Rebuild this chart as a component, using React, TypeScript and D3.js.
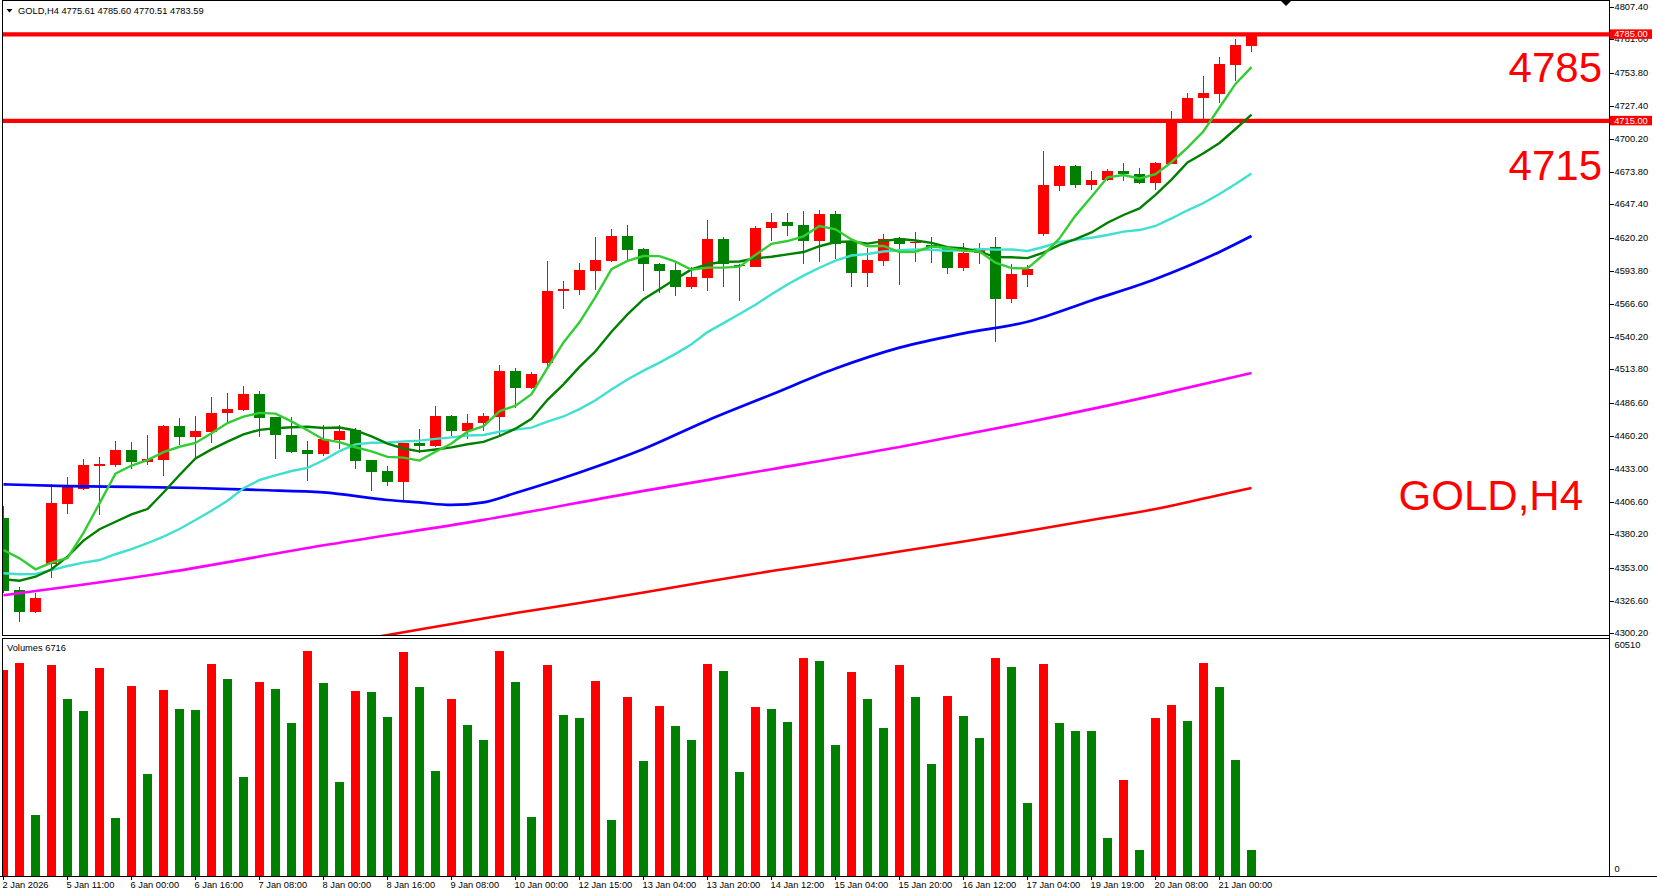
import React from 'react';
import * as d3 from 'd3';

const W = 1657;
const H = 896;

const opens = [4393.8, 4335.3, 4317.7, 4356.1, 4405.1, 4416.8, 4435.4, 4436.4, 4448.6, 4439.1, 4440.5, 4468.0, 4459.3, 4463.4, 4478.4, 4481.0, 4493.9, 4475.5, 4461.0, 4448.6, 4445.6, 4456.7, 4464.8, 4440.5, 4431.6, 4422.9, 4454.2, 4451.8, 4476.1, 4464.0, 4470.2, 4475.5, 4512.5, 4499.0, 4518.8, 4577.5, 4578.1, 4593.7, 4601.8, 4621.8, 4611.3, 4599.0, 4594.0, 4580.8, 4588.1, 4619.4, 4598.5, 4597.0, 4628.2, 4633.2, 4631.0, 4617.8, 4639.9, 4617.2, 4592.1, 4601.8, 4620.0, 4616.0, 4614.6, 4611.9, 4596.2, 4607.8, 4612.6, 4571.1, 4590.2, 4623.4, 4662.5, 4678.7, 4663.3, 4666.9, 4674.4, 4672.0, 4665.0, 4680.1, 4715.7, 4733.2, 4736.8, 4760.5, 4775.61];
const highs = [4403.2, 4337.9, 4332.6, 4421.1, 4427.0, 4441.1, 4442.7, 4456.1, 4455.3, 4460.7, 4468.8, 4474.7, 4476.1, 4491.7, 4495.0, 4500.4, 4496.6, 4475.5, 4475.5, 4455.9, 4468.8, 4468.8, 4466.2, 4440.5, 4435.6, 4454.5, 4465.6, 4484.2, 4477.0, 4477.7, 4478.3, 4517.4, 4515.2, 4511.5, 4601.6, 4585.4, 4600.2, 4621.2, 4627.5, 4630.7, 4612.3, 4600.2, 4599.7, 4597.0, 4634.8, 4621.2, 4599.0, 4629.9, 4640.7, 4640.2, 4642.1, 4642.9, 4642.1, 4617.2, 4611.9, 4623.4, 4621.2, 4625.3, 4621.2, 4613.2, 4616.4, 4616.4, 4621.2, 4599.2, 4598.3, 4690.6, 4679.3, 4679.3, 4674.4, 4676.1, 4680.7, 4676.6, 4681.5, 4723.2, 4737.8, 4751.3, 4767.0, 4781.3, 4785.60];
const lows = [4333.0, 4309.6, 4316.9, 4345.2, 4396.8, 4416.0, 4396.0, 4435.1, 4433.0, 4436.4, 4427.5, 4452.6, 4442.7, 4454.5, 4470.2, 4480.0, 4459.3, 4441.5, 4446.4, 4423.7, 4444.0, 4449.1, 4433.2, 4415.6, 4419.4, 4406.7, 4445.9, 4451.0, 4459.9, 4457.2, 4464.2, 4460.7, 4482.3, 4497.7, 4516.0, 4562.7, 4574.1, 4578.1, 4601.0, 4602.4, 4577.5, 4575.9, 4573.2, 4578.9, 4577.5, 4580.8, 4569.4, 4596.5, 4617.8, 4621.8, 4599.2, 4601.0, 4603.2, 4580.8, 4580.8, 4597.5, 4582.1, 4601.0, 4600.2, 4591.1, 4593.7, 4598.9, 4536.3, 4567.8, 4580.8, 4622.1, 4658.5, 4660.9, 4659.1, 4666.0, 4666.6, 4663.9, 4659.1, 4680.0, 4714.0, 4716.0, 4729.2, 4747.3, 4770.51];
const closes = [4334.7, 4317.7, 4328.8, 4405.9, 4418.9, 4436.4, 4437.0, 4448.6, 4439.1, 4441.1, 4468.0, 4459.3, 4464.0, 4478.8, 4481.8, 4493.9, 4474.7, 4461.0, 4447.2, 4445.6, 4457.2, 4464.0, 4439.9, 4431.0, 4422.9, 4454.0, 4452.1, 4476.1, 4464.0, 4470.7, 4476.1, 4512.5, 4499.0, 4510.1, 4577.3, 4578.9, 4594.3, 4602.4, 4621.8, 4610.5, 4598.9, 4593.7, 4580.8, 4588.4, 4619.1, 4598.9, 4597.8, 4628.5, 4633.2, 4629.9, 4618.0, 4639.9, 4615.1, 4592.1, 4602.4, 4619.1, 4615.3, 4616.6, 4613.2, 4596.2, 4608.3, 4612.3, 4571.1, 4591.1, 4595.3, 4663.1, 4678.7, 4663.3, 4667.2, 4674.4, 4671.8, 4665.0, 4680.7, 4715.7, 4733.8, 4737.8, 4761.0, 4776.4, 4783.59];
const volumes = [52675, 54482, 15493, 53966, 45445, 42346, 53191, 14976, 48543, 26079, 47511, 42863, 42605, 54224, 50351, 25305, 49576, 47769, 39248, 57581, 49318, 24014, 47252, 46994, 40797, 57323, 48285, 26854, 45445, 38732, 34858, 57581, 49576, 15234, 53966, 41314, 40539, 49835, 14460, 45961, 29436, 43637, 38473, 34858, 54224, 52417, 26596, 43379, 42863, 39506, 55773, 55000, 33567, 52158, 45445, 37957, 53966, 45961, 28661, 46220, 41055, 35375, 55773, 53449, 18591, 54224, 39248, 37182, 37100, 9812, 24530, 6713, 40539, 43896, 39764, 54482, 48285, 29694, 6716];

const maFast = [4367.6, 4360.9, 4352.0, 4357.4, 4361.2, 4381.5, 4405.4, 4429.4, 4436.0, 4440.4, 4446.8, 4451.2, 4454.3, 4462.2, 4470.4, 4475.6, 4478.6, 4478.0, 4471.7, 4464.5, 4457.1, 4455.0, 4450.8, 4447.5, 4443.0, 4442.4, 4440.0, 4447.2, 4453.8, 4463.4, 4467.8, 4479.9, 4484.5, 4493.7, 4515.0, 4535.6, 4551.9, 4572.6, 4594.9, 4601.6, 4605.6, 4605.5, 4601.1, 4594.5, 4596.2, 4596.2, 4597.0, 4606.5, 4615.5, 4617.7, 4621.5, 4629.9, 4627.2, 4619.0, 4613.5, 4613.7, 4608.8, 4609.1, 4613.3, 4612.1, 4609.9, 4609.3, 4600.2, 4595.8, 4595.6, 4606.6, 4619.9, 4638.3, 4653.5, 4669.3, 4671.1, 4668.3, 4671.8, 4681.5, 4693.4, 4706.6, 4725.8, 4744.9, 4758.5];
const maMid = [4343.9, 4342.8, 4346.0, 4352.0, 4362.2, 4375.2, 4384.4, 4390.5, 4396.5, 4400.8, 4414.2, 4428.3, 4441.8, 4449.1, 4455.4, 4461.2, 4464.9, 4466.2, 4467.0, 4467.4, 4466.4, 4466.8, 4464.4, 4459.6, 4453.7, 4449.8, 4447.5, 4449.0, 4450.7, 4453.2, 4455.1, 4459.9, 4465.8, 4473.8, 4489.2, 4501.7, 4515.9, 4528.5, 4544.3, 4558.3, 4570.6, 4578.7, 4586.9, 4594.7, 4598.9, 4600.9, 4601.2, 4603.8, 4605.0, 4606.9, 4608.8, 4613.5, 4616.9, 4617.3, 4615.6, 4617.6, 4619.4, 4618.2, 4616.2, 4612.8, 4611.8, 4609.1, 4604.7, 4604.6, 4603.9, 4608.3, 4614.6, 4619.3, 4624.7, 4632.5, 4638.8, 4644.1, 4655.1, 4667.5, 4681.4, 4688.8, 4697.1, 4708.4, 4720.0];
const maSlow = [4348.8, 4348.0, 4348.2, 4351.4, 4354.7, 4357.4, 4359.5, 4364.2, 4368.4, 4373.1, 4378.4, 4384.6, 4391.9, 4399.4, 4407.5, 4417.6, 4424.3, 4428.1, 4431.6, 4434.1, 4440.3, 4447.6, 4453.1, 4454.4, 4454.6, 4455.5, 4456.2, 4457.6, 4458.8, 4460.3, 4460.7, 4463.4, 4465.1, 4466.7, 4471.5, 4475.7, 4481.7, 4488.8, 4497.5, 4505.7, 4512.8, 4519.3, 4526.4, 4534.2, 4544.0, 4551.3, 4558.6, 4566.2, 4574.6, 4582.6, 4589.7, 4596.1, 4601.9, 4606.0, 4607.2, 4609.2, 4610.3, 4611.0, 4610.6, 4609.9, 4610.3, 4611.3, 4610.8, 4610.9, 4609.7, 4612.9, 4617.0, 4618.7, 4620.4, 4622.6, 4625.3, 4626.6, 4629.9, 4636.0, 4642.6, 4648.5, 4655.8, 4663.8, 4672.3];

const blueIdx = [0, 4, 8, 12, 16, 20, 24, 26, 28, 30, 32, 36, 40, 44, 48, 52, 56, 60, 64, 68, 72, 76, 78];
const blueVal = [4420.8, 4419.3, 4418.7, 4417.8, 4416.2, 4414.3, 4408.1, 4406.1, 4404.1, 4406.2, 4413.8, 4430.4, 4449.4, 4472.5, 4493.5, 4514.5, 4531.4, 4543.0, 4552.4, 4569.6, 4587.0, 4608.9, 4621.8];
const magIdx = [0, 10, 20, 30, 40, 48, 56, 64, 72, 78];
const magVal = [4331.0, 4349.0, 4371.4, 4392.0, 4415.5, 4433.0, 4451.0, 4471.0, 4493.0, 4510.9];
const redIdx = [20, 24, 28, 32, 36, 40, 44, 48, 52, 56, 60, 64, 68, 72, 76, 78];
const redVal = [4289.9, 4298.8, 4307.7, 4316.6, 4324.7, 4333.2, 4342.1, 4350.6, 4358.3, 4366.4, 4374.5, 4383.0, 4391.9, 4400.8, 4412.2, 4417.8];

const timeLabels = ['2 Jan 2026', '5 Jan 11:00', '6 Jan 00:00', '6 Jan 16:00', '7 Jan 08:00', '8 Jan 00:00', '8 Jan 16:00', '9 Jan 08:00', '10 Jan 00:00', '12 Jan 15:00', '13 Jan 04:00', '13 Jan 20:00', '14 Jan 12:00', '15 Jan 04:00', '15 Jan 20:00', '16 Jan 12:00', '17 Jan 04:00', '19 Jan 19:00', '20 Jan 08:00', '21 Jan 00:00'];
const priceLabels = ['4807.40', '4781.00', '4753.80', '4727.40', '4700.20', '4673.80', '4647.40', '4620.20', '4593.80', '4566.60', '4540.20', '4513.80', '4486.60', '4460.20', '4433.00', '4406.60', '4380.20', '4353.00', '4326.60', '4300.20'];
const levels = [4785, 4715];
const levelTexts = ['4785', '4715'];
const symbolText = 'GOLD,H4';
const headerText = 'GOLD,H4  4775.61 4785.60 4770.51 4783.59';
const volumeTitle = 'Volumes 6716';
const volumeMaxLabel = '60510';
const volumeMax = 60510;

const UP = '#FF0000';
const DOWN = '#008000';
const FONT = "'Liberation Sans', Arial, sans-serif";

export default function App() {
  const n = closes.length;
  const AX = 1609.5; // right axis x
  const x = d3.scaleLinear().domain([0, n - 1]).range([3.5, 3.5 + 16 * (n - 1)]);
  const y = d3.scaleLinear().domain([4300.2, 4807.4]).range([633.3, 6.7]);
  const yv = d3.scaleLinear().domain([0, volumeMax]).range([876, 639.7]);

  const lineIdx = d3.line<number>().x((_, i) => x(i)).y((d) => y(d));
  const lineSmp = d3
    .line<[number, number]>()
    .x((d) => x(d[0]))
    .y((d) => y(d[1]))
    .curve(d3.curveMonotoneX);
  const pairs = (idx: number[], v: number[]) => idx.map((k, j) => [k, v[j]] as [number, number]);

  return (
    <svg
      width={W}
      height={H}
      style={{ position: 'absolute', left: 0, top: 0, display: 'block', background: '#fff' }}
      fontFamily={FONT}
    >
      <defs>
        <clipPath id="mainClip">
          <rect x={2.5} y={1} width={AX - 3} height={634} />
        </clipPath>
        <clipPath id="volClip">
          <rect x={2.5} y={638.5} width={AX - 3} height={238} />
        </clipPath>
      </defs>
      <rect x={0} y={0} width={W} height={H} fill="#fff" />

      {/* main pane */}
      <g clipPath="url(#mainClip)" shapeRendering="crispEdges">
        {closes.map((c, i) => {
          const o = opens[i];
          const col = c >= o ? UP : DOWN;
          const top = y(Math.max(o, c));
          const bot = y(Math.min(o, c));
          return (
            <g key={i}>
              <rect x={x(i) - 0.5} width={1} y={y(highs[i])} height={Math.max(1, y(lows[i]) - y(highs[i]))} fill={col} />
              <rect x={x(i) - 5.5} width={11} y={top} height={Math.max(1, bot - top)} fill={col} />
            </g>
          );
        })}
      </g>
      <g clipPath="url(#mainClip)">
        {levels.map((lv) => (
          <line key={lv} x1={0} x2={AX} y1={y(lv)} y2={y(lv)} stroke="#FF0000" strokeWidth={4.3} />
        ))}
        <path d={lineSmp(pairs(redIdx, redVal)) || ''} fill="none" stroke="#FF0000" strokeWidth={2.6} />
        <path d={lineSmp(pairs(magIdx, magVal)) || ''} fill="none" stroke="#FF00FF" strokeWidth={2.6} />
        <path d={lineSmp(pairs(blueIdx, blueVal)) || ''} fill="none" stroke="#0000FF" strokeWidth={2.7} />
        <path d={lineIdx(maSlow) || ''} fill="none" stroke="#40E0D0" strokeWidth={2.4} />
        <path d={lineIdx(maMid) || ''} fill="none" stroke="#008000" strokeWidth={2.4} />
        <path d={lineIdx(maFast) || ''} fill="none" stroke="#32CD32" strokeWidth={2.4} />
      </g>

      {/* big labels */}
      <g fill="#FF0000" fontSize={42} textAnchor="end">
        <text x={1602} y={82}>{levelTexts[0]}</text>
        <text x={1602} y={180}>{levelTexts[1]}</text>
        <text x={1583} y={510}>{symbolText}</text>
      </g>

      {/* header */}
      <path d="M6.5,9 L12.5,9 L9.5,12.5 Z" fill="#000" />
      <text x={18} y={14} fontSize={9.3} fill="#000">{headerText}</text>

      {/* chart shift marker */}
      <path d="M1281,1 L1291,1 L1286,6 Z" fill="#000" />

      {/* volume pane */}
      <g clipPath="url(#volClip)" shapeRendering="crispEdges">
        {volumes.map((v, i) => {
          const col = i === 0 || v > volumes[i - 1] ? UP : DOWN;
          return <rect key={i} x={x(i) - 4.5} width={9} y={yv(v)} height={yv(0) - yv(v)} fill={col} />;
        })}
      </g>
      <text x={7} y={651} fontSize={9.3} fill="#000">{volumeTitle}</text>

      {/* frames */}
      <g stroke="#000" strokeWidth={1} fill="none" shapeRendering="crispEdges">
        <line x1={2.5} x2={AX} y1={0.5} y2={0.5} />
        <line x1={2.5} x2={2.5} y1={0} y2={635.5} />
        <line x1={2.5} x2={AX} y1={635.5} y2={635.5} />
        <line x1={2.5} x2={AX} y1={638} y2={638} />
        <line x1={2.5} x2={2.5} y1={638} y2={876.5} />
        <line x1={AX} x2={AX} y1={0} y2={876.5} />
        <line x1={0} x2={W} y1={876.5} y2={876.5} />
      </g>

      {/* price axis */}
      <g fontSize={9.3} fill="#000">
        {priceLabels.map((p) => {
          const yy = y(parseFloat(p));
          return (
            <g key={p}>
              <line x1={AX} x2={AX + 4} y1={Math.round(yy) + 0.5} y2={Math.round(yy) + 0.5} stroke="#000" shapeRendering="crispEdges" />
              <text x={AX + 5} y={yy} dominantBaseline="central">{p}</text>
            </g>
          );
        })}
      </g>
      {levels.map((lv) => (
        <g key={'b' + lv}>
          <rect x={AX + 0.5} y={y(lv) - 5} width={42} height={9.5} fill="#FF0000" />
          <text x={AX + 21.5} y={y(lv) - 0.2} fontSize={9.3} fill="#fff" textAnchor="middle" dominantBaseline="central">
            {lv.toFixed(2)}
          </text>
        </g>
      ))}
      <text x={AX + 5} y={645} fontSize={9.3} dominantBaseline="central">{volumeMaxLabel}</text>
      <text x={AX + 5} y={869} fontSize={9.3} dominantBaseline="central">0</text>

      {/* time axis */}
      <g fontSize={9.3} fill="#000">
        {timeLabels.map((t, k) => {
          const xx = x(k * 4);
          return (
            <g key={t}>
              <line x1={Math.floor(xx) + 0.5} x2={Math.floor(xx) + 0.5} y1={876.5} y2={880} stroke="#000" shapeRendering="crispEdges" />
              <text x={xx - 1} y={888}>{t}</text>
            </g>
          );
        })}
      </g>
    </svg>
  );
}
